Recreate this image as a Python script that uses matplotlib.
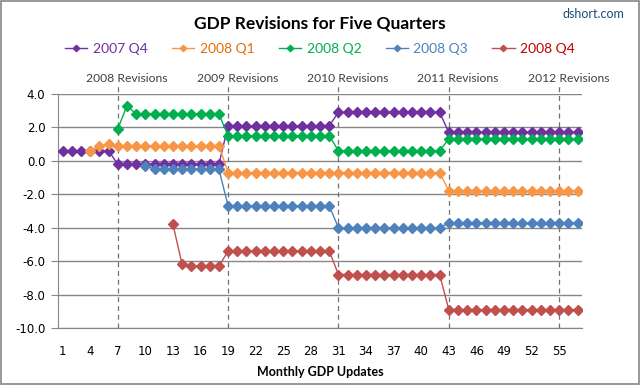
import matplotlib
matplotlib.use("Agg")
import matplotlib.pyplot as plt
from matplotlib.patches import Rectangle

# monthly GDP update number
updates = list(range(1, 58))

# each series starts at its advance estimate
q4_2007 = [0.6, 0.6, 0.6, 0.6, 0.6, 0.6,
           -0.2, -0.2, -0.2, -0.2, -0.2, -0.2, -0.2, -0.2, -0.2, -0.2, -0.2, -0.2,
           2.1, 2.1, 2.1, 2.1, 2.1, 2.1, 2.1, 2.1, 2.1, 2.1, 2.1, 2.1,
           2.9, 2.9, 2.9, 2.9, 2.9, 2.9, 2.9, 2.9, 2.9, 2.9, 2.9, 2.9,
           1.7, 1.7, 1.7, 1.7, 1.7, 1.7, 1.7, 1.7, 1.7, 1.7, 1.7, 1.7, 1.7, 1.7, 1.7]
q1_2008 = [0.6, 0.9, 1.0,
           0.9, 0.9, 0.9, 0.9, 0.9, 0.9, 0.9, 0.9, 0.9, 0.9, 0.9, 0.9,
           -0.7, -0.7, -0.7, -0.7, -0.7, -0.7, -0.7, -0.7, -0.7, -0.7, -0.7, -0.7,
           -0.7, -0.7, -0.7, -0.7, -0.7, -0.7, -0.7, -0.7, -0.7, -0.7, -0.7, -0.7,
           -1.8, -1.8, -1.8, -1.8, -1.8, -1.8, -1.8, -1.8, -1.8, -1.8, -1.8, -1.8, -1.8, -1.8, -1.8]
q2_2008 = [1.9, 3.3,
           2.8, 2.8, 2.8, 2.8, 2.8, 2.8, 2.8, 2.8, 2.8, 2.8,
           1.5, 1.5, 1.5, 1.5, 1.5, 1.5, 1.5, 1.5, 1.5, 1.5, 1.5, 1.5,
           0.6, 0.6, 0.6, 0.6, 0.6, 0.6, 0.6, 0.6, 0.6, 0.6, 0.6, 0.6,
           1.3, 1.3, 1.3, 1.3, 1.3, 1.3, 1.3, 1.3, 1.3, 1.3, 1.3, 1.3, 1.3, 1.3, 1.3]
q3_2008 = [-0.3,
           -0.5, -0.5, -0.5, -0.5, -0.5, -0.5, -0.5, -0.5,
           -2.7, -2.7, -2.7, -2.7, -2.7, -2.7, -2.7, -2.7, -2.7, -2.7, -2.7, -2.7,
           -4.0, -4.0, -4.0, -4.0, -4.0, -4.0, -4.0, -4.0, -4.0, -4.0, -4.0, -4.0,
           -3.7, -3.7, -3.7, -3.7, -3.7, -3.7, -3.7, -3.7, -3.7, -3.7, -3.7, -3.7, -3.7, -3.7, -3.7]
q4_2008 = [-3.8, -6.2,
           -6.3, -6.3, -6.3, -6.3,
           -5.4, -5.4, -5.4, -5.4, -5.4, -5.4, -5.4, -5.4, -5.4, -5.4, -5.4, -5.4,
           -6.8, -6.8, -6.8, -6.8, -6.8, -6.8, -6.8, -6.8, -6.8, -6.8, -6.8, -6.8,
           -8.9, -8.9, -8.9, -8.9, -8.9, -8.9, -8.9, -8.9, -8.9, -8.9, -8.9, -8.9, -8.9, -8.9, -8.9]

series = [q4_2007, q1_2008, q2_2008, q3_2008, q4_2008]
names = ["2007 Q4", "2008 Q1", "2008 Q2", "2008 Q3", "2008 Q4"]
starts = [1, 4, 7, 10, 13]
colors = ["#7030A0", "#F79646", "#00B050", "#4F81BD", "#C0504D"]
text_colors = ["#7030A0", "#E46C0A", "#00B050", "#4F81BD", "#C00000"]

revision_x = [7, 19, 31, 43, 55]
revision_labels = ["2008 Revisions", "2009 Revisions", "2010 Revisions",
                   "2011 Revisions", "2012 Revisions"]
xticks = list(range(1, 56, 3))
yticks = [4, 2, 0, -2, -4, -6, -8, -10]

fig = plt.figure(figsize=(6.4, 3.85), dpi=100)
ax = fig.add_axes([0.0906, 0.148, 0.819, 0.608])

for yt in yticks:
    ax.axhline(yt, color="#868686", lw=1.0, zorder=1)

for xv in revision_x:
    ax.axvline(xv, ymin=0, ymax=1.04, color="#707070", lw=0.9,
               ls=(0, (4, 3)), clip_on=False, zorder=1)

handles = []
for vals, st, c in zip(series, starts, colors):
    xs = updates[st - 1:st - 1 + len(vals)]
    h, = ax.plot(xs, vals, color=c, lw=1.0, marker="D", ms=5.4,
                 mec=c, mfc=c, zorder=3)
    handles.append(h)

for xv, lab in zip(revision_x, revision_labels):
    ax.text(xv + 1.0, 4.9, lab, ha="center", va="center", fontsize=8.7,
            color="#404040", family="Lato", clip_on=False)

ax.set_xlim(0.5, 57.5)
ax.set_ylim(-10, 4)
ax.set_xticks(xticks)
ax.set_yticks(yticks)
ax.set_yticklabels([f"{v:.1f}" for v in yticks], fontsize=8.5, family="DejaVu Sans")
ax.set_xticklabels([str(v) for v in xticks], fontsize=8.5, family="DejaVu Sans")
ax.tick_params(axis="x", length=0, pad=12)
ax.tick_params(axis="y", length=5, color="#868686", pad=4)
for s in ["top", "right"]:
    ax.spines[s].set_visible(False)
for s in ["left", "bottom"]:
    ax.spines[s].set_color("#868686")
ax.set_xlabel("Monthly GDP Updates", fontsize=9, fontweight="bold",
              family="Lato", labelpad=6)

leg = fig.legend(handles, names, loc="center", bbox_to_anchor=(0.5, 0.872),
                 ncol=5, frameon=False, handlelength=1.6,
                 handletextpad=0.4, columnspacing=1.75, markerscale=0.6,
                 labelcolor=text_colors, prop={"family": "Lato", "size": 10})

fig.text(0.5, 0.938, "GDP Revisions for Five Quarters", ha="center", va="center",
         fontsize=12.5, fontweight="bold", family="Lato")
fig.text(0.975, 0.963, "dshort.com", ha="right", va="center", fontsize=9,
         color="#1F497D", family="Lato")

fig.add_artist(Rectangle((0.001, 0.002), 0.997, 0.995, transform=fig.transFigure,
                         fill=False, ec="#868686", lw=1.2))

fig.savefig("out.png", dpi=100)
